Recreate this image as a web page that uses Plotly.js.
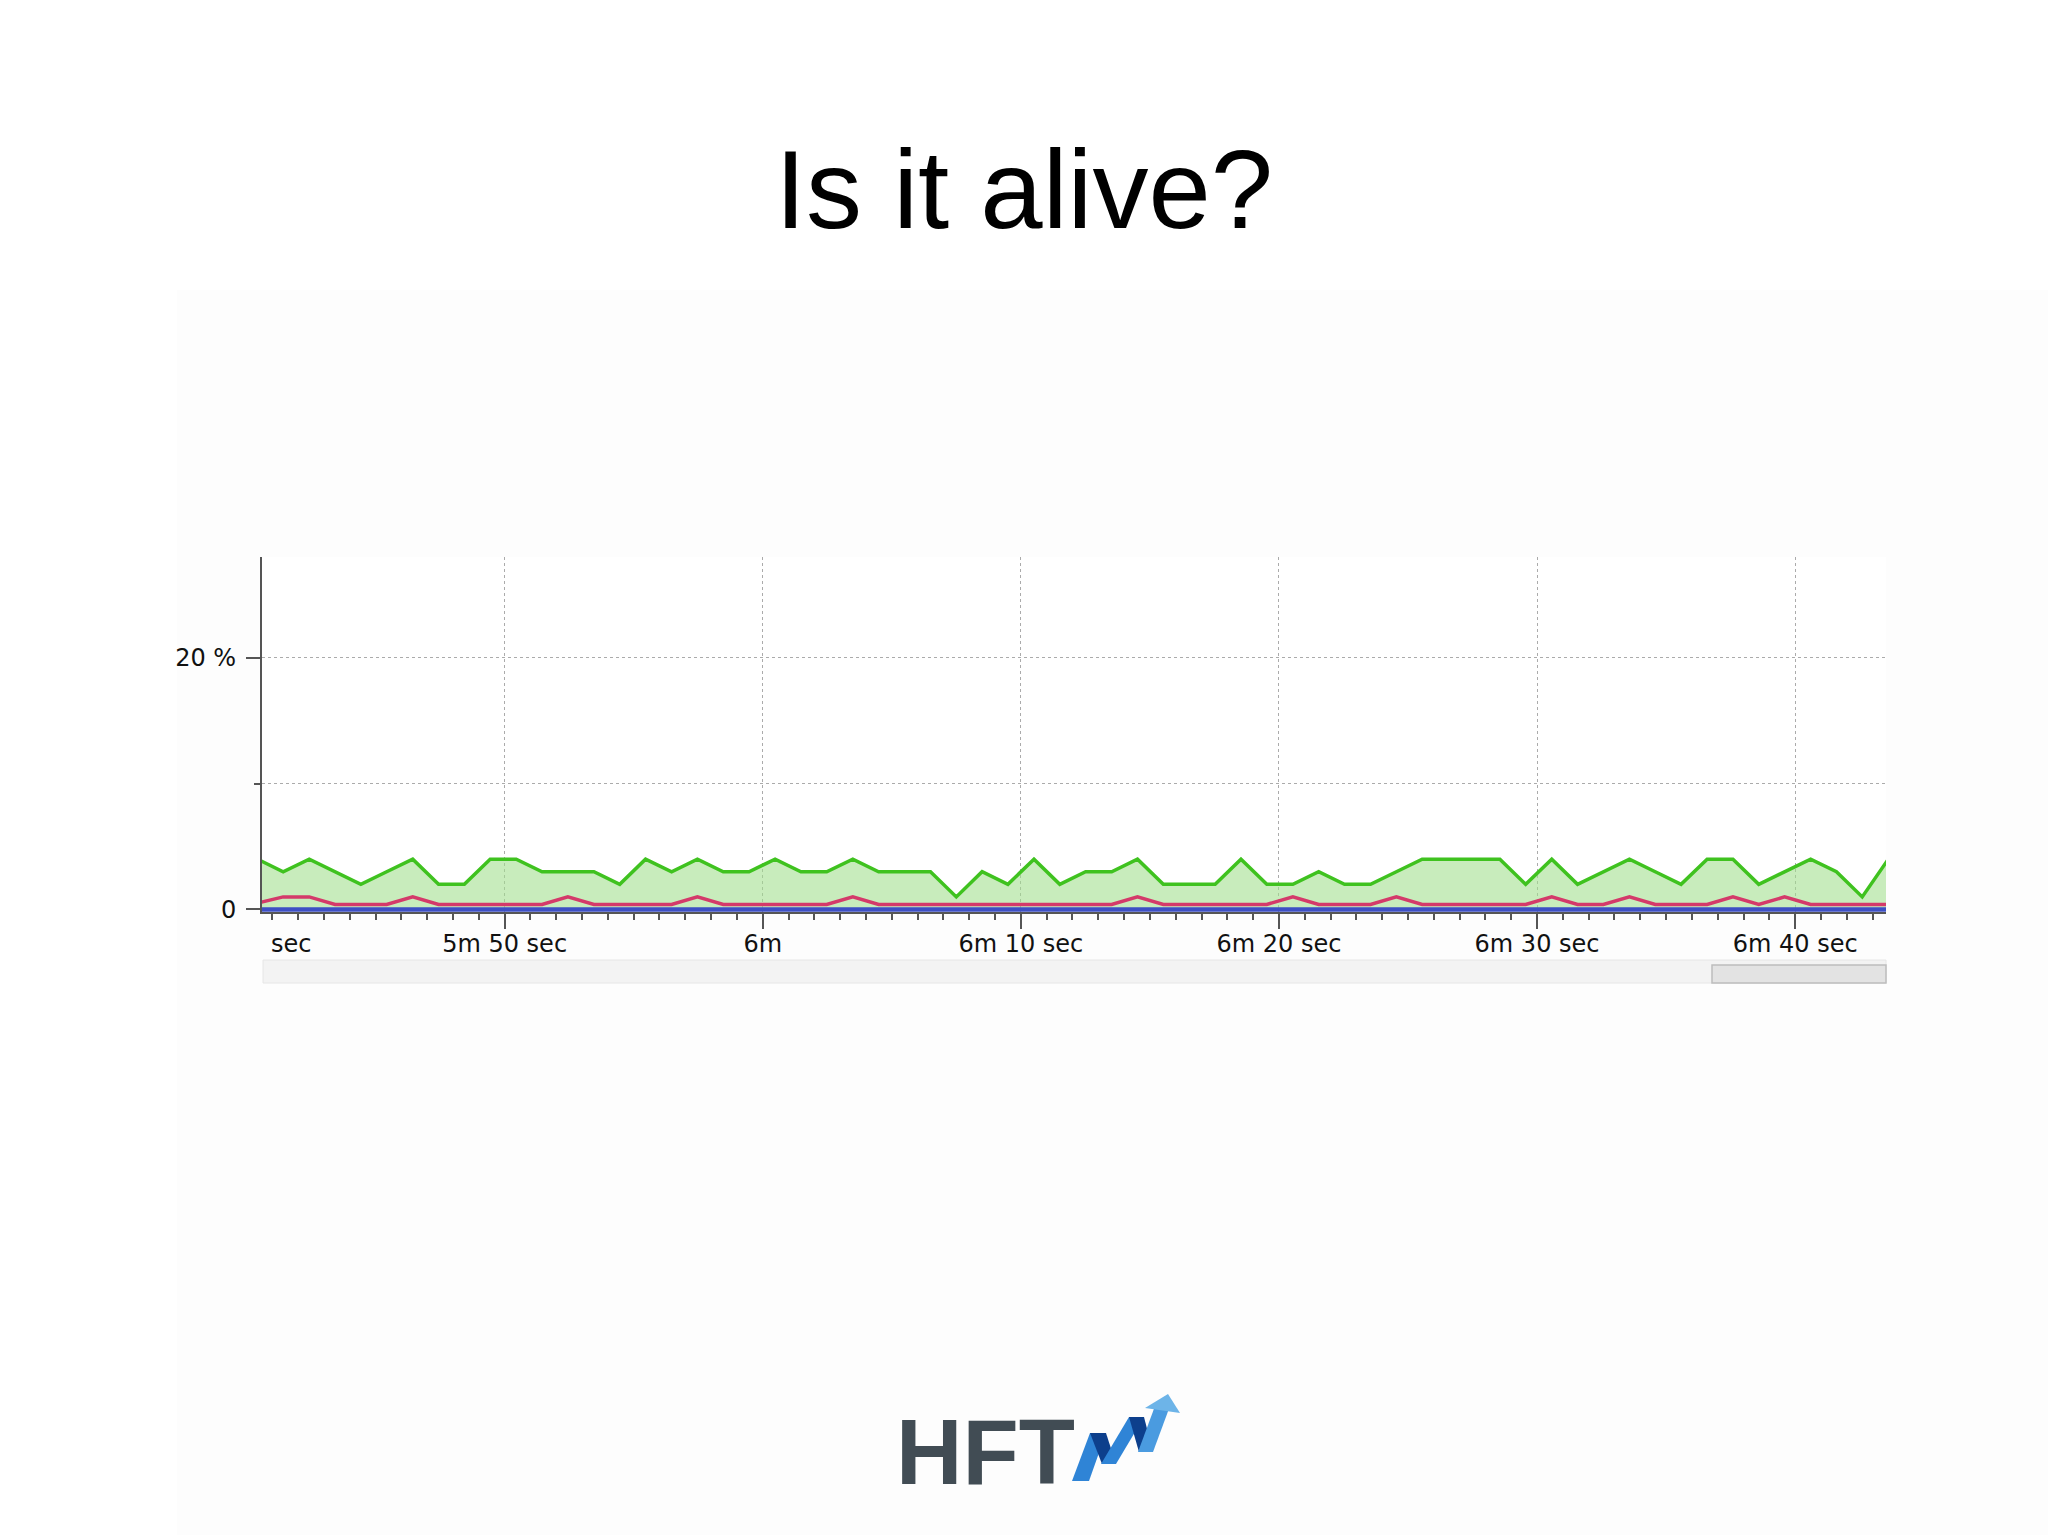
<!DOCTYPE html>
<html>
<head>
<meta charset="utf-8">
<script src="https://cdn.plot.ly/plotly-3.0.1.min.js"></script>
<style>
  html, body { margin: 0; padding: 0; background: #ffffff; }
  #chart { width: 2048px; height: 1535px; }
</style>
</head>
<body>
<div id="chart"></div>
<script>
// ---------------- data ----------------
// sample times in seconds (5m 40s = 340 s ... 6m 43s = 403 s)
const timeSec = [340.42, 341.42, 342.43, 343.43, 344.43, 345.43, 346.44, 347.44, 348.44, 349.44,
                 350.45, 351.45, 352.45, 353.46, 354.46, 355.46, 356.47, 357.47, 358.47, 359.47,
                 360.48, 361.48, 362.48, 363.49, 364.49, 365.49, 366.50, 367.50, 368.50, 369.50,
                 370.51, 371.51, 372.51, 373.52, 374.52, 375.52, 376.53, 377.53, 378.53, 379.53,
                 380.54, 381.54, 382.54, 383.55, 384.55, 385.55, 386.56, 387.56, 388.56, 389.56,
                 390.57, 391.57, 392.57, 393.58, 394.58, 395.58, 396.59, 397.59, 398.59, 399.59,
                 400.60, 401.60, 402.60, 403.61];
// green series (%)
const cpuUsage = [4, 3, 4, 3, 2, 3, 4, 2, 2, 4,
                  4, 3, 3, 3, 2, 4, 3, 4, 3, 3,
                  4, 3, 3, 4, 3, 3, 3, 1, 3, 2,
                  4, 2, 3, 3, 4, 2, 2, 2, 4, 2,
                  2, 3, 2, 2, 3, 4, 4, 4, 4, 2,
                  4, 2, 3, 4, 3, 2, 4, 4, 2, 3,
                  4, 3, 1, 4];
// red series (%)
const gcActivity = [0.5, 1.0, 1.0, 0.4, 0.4, 0.4, 1.0, 0.4, 0.4, 0.4,
                    0.4, 0.4, 1.0, 0.4, 0.4, 0.4, 0.4, 1.0, 0.4, 0.4,
                    0.4, 0.4, 0.4, 1.0, 0.4, 0.4, 0.4, 0.4, 0.4, 0.4,
                    0.4, 0.4, 0.4, 0.4, 1.0, 0.4, 0.4, 0.4, 0.4, 0.4,
                    1.0, 0.4, 0.4, 0.4, 1.0, 0.4, 0.4, 0.4, 0.4, 0.4,
                    1.0, 0.4, 0.4, 1.0, 0.4, 0.4, 0.4, 1.0, 0.4, 1.0,
                    0.4, 0.4, 0.4, 0.4];
// blue series (%)
const blueSeries = [0, 0, 0, 0, 0, 0, 0, 0, 0, 0,
                    0, 0, 0, 0, 0, 0, 0, 0, 0, 0,
                    0, 0, 0, 0, 0, 0, 0, 0, 0, 0,
                    0, 0, 0, 0, 0, 0, 0, 0, 0, 0,
                    0, 0, 0, 0, 0, 0, 0, 0, 0, 0,
                    0, 0, 0, 0, 0, 0, 0, 0, 0, 0,
                    0, 0, 0, 0];
// axis ticks
const xTickVals = [350, 360, 370, 380, 390, 400];
const xTickText = ['5m 50 sec', '6m', '6m 10 sec', '6m 20 sec', '6m 30 sec', '6m 40 sec'];
const yTickVals = [0, 20];
const yTickText = ['0', '20 %'];
const titleText = 'Is it alive?';
const logoText = 'HFT';
const clippedTickText = 'sec';

// ---------------- layout helpers (pixel -> paper) ----------------
const W = 2048, H = 1535;
const PL = 262, PR = 1886, PT = 557, PB = 912;
const px = x => (x - PL) / (PR - PL);
const py = y => (PB - y) / (PB - PT);
const poly = pts => 'M ' + pts.map(p => px(p[0]).toFixed(5) + ',' + py(p[1]).toFixed(5)).join(' L ') + ' Z';

const tickFont = { family: 'DejaVu Sans, Verdana, sans-serif', size: 24, color: '#111111' };
const axisGray = '#555555';
const gridGray = '#ababab';

const traces = [
  {
    x: timeSec, y: cpuUsage, type: 'scatter', mode: 'lines',
    line: { color: '#3fc21f', width: 3.5 },
    fill: 'tozeroy', fillcolor: 'rgba(160,222,140,0.58)',
    hoverinfo: 'skip', showlegend: false
  },
  {
    x: timeSec, y: gcActivity, type: 'scatter', mode: 'lines',
    line: { color: '#d43a6a', width: 3.5 },
    hoverinfo: 'skip', showlegend: false
  },
  {
    x: timeSec, y: blueSeries, type: 'scatter', mode: 'lines',
    line: { color: '#3d4fc4', width: 4.5 },
    hoverinfo: 'skip', showlegend: false
  }
];

const shapes = [
  // faint slide background panel
  { type: 'rect', xref: 'paper', yref: 'paper', layer: 'below',
    x0: px(177), x1: px(2048), y0: py(290), y1: py(1535),
    fillcolor: '#fdfdfd', line: { width: 0 } },
  // white chart area
  { type: 'rect', xref: 'paper', yref: 'paper', layer: 'below',
    x0: 0, x1: 1, y0: 0, y1: 1,
    fillcolor: '#ffffff', line: { width: 0 } },
  // scrollbar track
  { type: 'rect', xref: 'paper', yref: 'paper', layer: 'above',
    x0: px(263), x1: px(1886), y0: py(960), y1: py(983),
    fillcolor: '#f3f3f3', line: { color: '#e6e6e6', width: 1 } },
  // scrollbar thumb
  { type: 'rect', xref: 'paper', yref: 'paper', layer: 'above',
    x0: px(1712), x1: px(1886), y0: py(965), y1: py(983),
    fillcolor: '#e3e3e3', line: { color: '#bdbdbd', width: 1.5 } },
  // logo ribbon
  { type: 'path', xref: 'paper', yref: 'paper', layer: 'above', line: { width: 0 },
    fillcolor: '#2f84d6', path: poly([[1072,1481],[1089,1481],[1106,1433],[1090,1433]]) },
  { type: 'path', xref: 'paper', yref: 'paper', layer: 'above', line: { width: 0 },
    fillcolor: '#0d3f8c', path: poly([[1090,1433],[1106,1433],[1116,1464],[1102,1464]]) },
  { type: 'path', xref: 'paper', yref: 'paper', layer: 'above', line: { width: 0 },
    fillcolor: '#2f84d6', path: poly([[1101,1464],[1116,1464],[1144,1417],[1129,1417]]) },
  { type: 'path', xref: 'paper', yref: 'paper', layer: 'above', line: { width: 0 },
    fillcolor: '#0d3f8c', path: poly([[1129,1417],[1144,1417],[1153,1452],[1139,1452]]) },
  { type: 'path', xref: 'paper', yref: 'paper', layer: 'above', line: { width: 0 },
    fillcolor: '#4a9be0', path: poly([[1138,1452],[1153,1452],[1170,1406],[1155,1406]]) },
  { type: 'path', xref: 'paper', yref: 'paper', layer: 'above', line: { width: 0 },
    fillcolor: '#6db4e8', path: poly([[1145,1408],[1168,1394],[1180,1413]]) }
];

const annotations = [
  { text: clippedTickText, xref: 'paper', yref: 'paper', x: px(269), y: py(944),
    xanchor: 'left', yanchor: 'middle', showarrow: false, font: tickFont },
  { text: '<b>' + logoText + '</b>', xref: 'paper', yref: 'paper', x: px(985), y: py(1452),
    xanchor: 'center', yanchor: 'middle', showarrow: false,
    font: { family: 'Liberation Sans, Arial, sans-serif', size: 92, color: '#414c54' } }
];

const layout = {
  width: W, height: H,
  paper_bgcolor: '#ffffff',
  plot_bgcolor: 'rgba(0,0,0,0)',
  margin: { l: PL, r: W - PR, t: PT, b: H - PB, pad: 0, autoexpand: false },
  title: {
    text: titleText,
    font: { family: 'Liberation Sans, Arial, sans-serif', size: 112, color: '#000000' },
    x: 0.5, xanchor: 'center', xref: 'container',
    y: 1 - 189 / H, yanchor: 'middle', yref: 'container'
  },
  xaxis: {
    range: [340.6, 403.52],
    tickmode: 'array', tickvals: xTickVals, ticktext: xTickText,
    ticks: 'outside', ticklen: 15, tickwidth: 2, tickcolor: axisGray,
    ticklabelstandoff: -6,
    showline: true, linecolor: axisGray, linewidth: 2,
    showgrid: true, gridcolor: gridGray, griddash: 'dot', gridwidth: 1,
    zeroline: false, tickfont: tickFont, fixedrange: true,
    minor: { tickmode: 'linear', tick0: 0, dtick: 1, ticks: 'outside', ticklen: 6,
             tickwidth: 2, tickcolor: axisGray, showgrid: false }
  },
  yaxis: {
    range: [-0.2, 28],
    tickmode: 'array', tickvals: yTickVals, ticktext: yTickText,
    ticks: 'outside', ticklen: 14, tickwidth: 2, tickcolor: axisGray,
    ticklabelstandoff: 5,
    showline: true, linecolor: axisGray, linewidth: 2,
    showgrid: true, gridcolor: gridGray, griddash: 'dot', gridwidth: 1,
    zeroline: false, tickfont: tickFont, fixedrange: true,
    minor: { tickmode: 'linear', tick0: 0, dtick: 10, ticks: 'outside', ticklen: 6,
             tickwidth: 2, tickcolor: axisGray,
             showgrid: true, gridcolor: gridGray, griddash: 'dot', gridwidth: 1 }
  },
  shapes: shapes,
  annotations: annotations,
  showlegend: false
};

Plotly.newPlot('chart', traces, layout, { displayModeBar: false, staticPlot: true });
</script>
</body>
</html>
